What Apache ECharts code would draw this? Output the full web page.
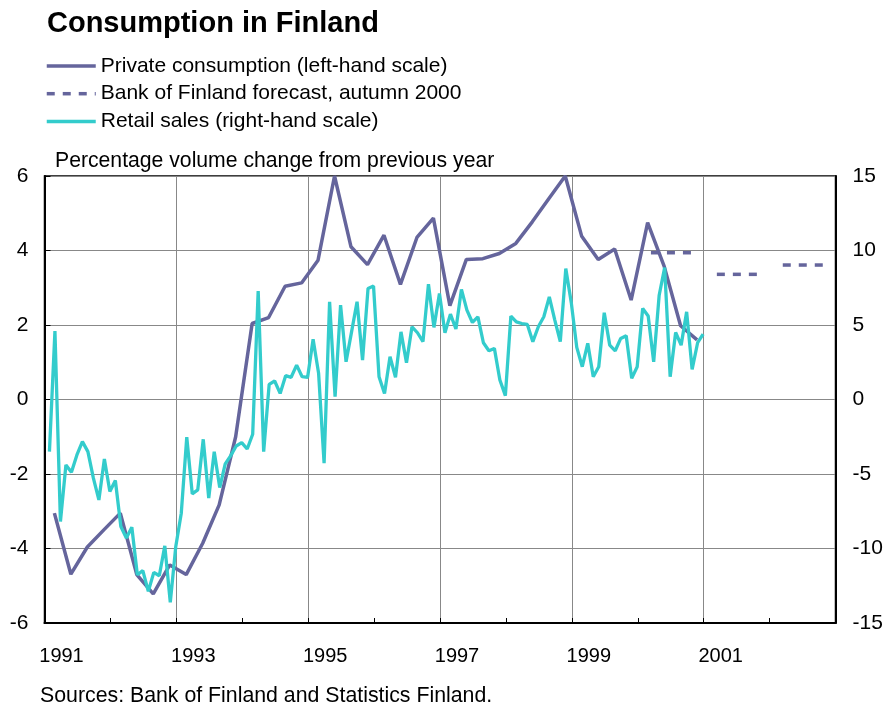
<!DOCTYPE html>
<html>
<head>
<meta charset="utf-8">
<script src="https://cdn.jsdelivr.net/npm/echarts@6/dist/echarts.min.js"></script>
<style>
  html, body { margin: 0; padding: 0; background: #fff; }
  #chart { width: 888px; height: 711px; }
</style>
</head>
<body>
<div id="chart"></div>
<script>
// private consumption, quarterly from 1991 Q1 (left-hand scale, %)
const consumptionStart = 1991;
const consumption = [
  -3.05, -4.69, -3.96, -3.5,
  -3.05, -4.7, -5.22, -4.44,
  -4.7, -3.86, -2.83, -1.0,
  2.04, 2.2, 3.04, 3.13,
  3.74, 6.0, 4.1, 3.62,
  4.41, 3.09, 4.35, 4.87,
  2.52, 3.76, 3.78, 3.92,
  4.19, 4.77, 5.39, 6.0,
  4.38, 3.76, 4.04, 2.67,
  4.75, 3.58, 1.98, 1.6
];

// Bank of Finland forecast, autumn 2000 (annual, left-hand scale)
const forecastYears = [2000, 2001, 2002];
const forecastValues = [3.94, 3.36, 3.61];

// retail sales, monthly from Jan 1991 (right-hand scale, %)
const retailStart = 1991;
const retail = [
  -3.5, 4.59, -8.19, -4.39, -4.88, -3.72, -2.83, -3.5, -5.28, -6.74, -3.99, -6.18,
  -5.44, -8.52, -9.3, -8.57, -11.76, -11.49, -12.88, -11.6, -11.83, -9.82, -13.62, -9.86,
  -7.63, -2.53, -6.33, -6.07, -2.67, -6.62, -3.5, -5.91, -4.32, -3.77, -3.12, -2.89,
  -3.32, -2.33, 7.27, -3.5, 1.02, 1.24, 0.41, 1.6, 1.49, 2.31, 1.53, 1.49,
  4.05, 1.76, -4.28, 6.56, 0.19, 6.33, 2.53, 4.54, 6.56, 2.65, 7.45, 7.61,
  1.53, 0.41, 2.87, 1.49, 4.54, 2.47, 4.88, 4.48, 3.88, 7.74, 4.84, 7.12,
  4.48, 5.73, 4.73, 7.39, 6.0, 5.17, 5.55, 3.81, 3.27, 3.43, 1.31, 0.26,
  5.6, 5.21, 5.1, 5.04, 3.88, 4.88, 5.55, 6.89, 5.33, 3.88, 8.79, 6.5,
  3.5, 2.2, 3.77, 1.53, 2.2, 5.82, 3.65, 3.27, 4.1, 4.28, 1.42, 2.2,
  6.11, 5.6, 2.53, 7.0, 8.86, 1.53, 4.5, 3.65, 5.88, 2.02, 3.81, 4.39
];

const yearLabels = [1991, 1993, 1995, 1997, 1999, 2001];

const purple = '#65659c';
const cyan = '#33cccc';
const font = 'Liberation Sans, Arial, sans-serif';

const consumptionData = consumption.map((v, i) => [consumptionStart + (i + 0.6) / 4, v]);
const retailData = retail.map((v, i) => [retailStart + (i + 0.9) / 12, v]);

const forecastName = 'Bank of Finland forecast, autumn 2000';
const forecastSeries = forecastYears.map((y, i) => ({
  name: forecastName,
  type: 'line',
  yAxisIndex: 0,
  symbol: 'none',
  color: purple,
  lineStyle: { color: purple, width: 3.5, type: [8, 8], cap: 'butt' },
  data: [[y + 0.2, forecastValues[i]], [y + 0.82, forecastValues[i]]]
}));

const chart = echarts.init(document.getElementById('chart'));
chart.setOption({
  animation: false,
  backgroundColor: '#fff',
  textStyle: { fontFamily: font },
  title: {
    text: 'Consumption in Finland',
    left: 47, top: 9, padding: 0,
    textStyle: { fontFamily: font, fontSize: 29, fontWeight: 'bold', color: '#000' }
  },
  legend: {
    orient: 'vertical',
    left: 45, top: 55, padding: 0,
    itemWidth: 49, itemHeight: 14, itemGap: 5.7,
    itemStyle: { opacity: 0 },
    lineStyle: { width: 3.5 },
    data: ['Private consumption (left-hand scale)', forecastName, 'Retail sales (right-hand scale)'],
    textStyle: { fontFamily: font, fontSize: 21, color: '#000', lineHeight: 22 }
  },
  graphic: [
    {
      type: 'text', left: 55, top: 151,
      style: { text: 'Percentage volume change from previous year', font: '21.2px ' + font, fill: '#000' }
    },
    {
      type: 'text', left: 40, top: 686,
      style: { text: 'Sources: Bank of Finland and Statistics Finland.', font: '21.3px ' + font, fill: '#000' }
    }
  ],
  grid: {
    left: 44.5, top: 176, width: 791, height: 447,
    show: true, borderColor: '#000', borderWidth: 1.5
  },
  xAxis: {
    type: 'value', min: 1991, max: 2003, interval: 2,
    axisLine: { show: true, onZero: false, lineStyle: { color: '#000', width: 2 } },
    axisTick: { show: true, inside: true, length: 5, lineStyle: { color: '#000' } },
    minorTick: { show: true, splitNumber: 2, length: 5, lineStyle: { color: '#000', width: 1 } },
    splitLine: { show: true, lineStyle: { color: '#888', width: 1 } },
    axisLabel: {
      margin: 23, align: 'center', padding: [0, 0, 0, 34], fontSize: 20, color: '#000', fontFamily: font,
      formatter: v => (yearLabels.indexOf(v) >= 0 ? String(v) : '')
    }
  },
  yAxis: [
    {
      type: 'value', min: -6, max: 6, interval: 2, position: 'left',
      axisLine: { show: true, lineStyle: { color: '#000', width: 2 } },
      axisTick: { show: true, inside: true, length: 6, lineStyle: { color: '#000' } },
      splitLine: { show: true, lineStyle: { color: '#888', width: 1 } },
      axisLabel: { margin: 16, fontSize: 21, color: '#000', fontFamily: font }
    },
    {
      type: 'value', min: -15, max: 15, interval: 5, position: 'right',
      axisLine: { show: true, lineStyle: { color: '#000', width: 2 } },
      axisTick: { show: false },
      splitLine: { show: false },
      axisLabel: { margin: 17, fontSize: 21, color: '#000', fontFamily: font }
    }
  ],
  series: [
    {
      name: 'Private consumption (left-hand scale)',
      type: 'line', yAxisIndex: 0, symbol: 'none',
      color: purple,
      lineStyle: { color: purple, width: 3.5 },
      data: consumptionData
    },
    ...forecastSeries,
    {
      name: 'Retail sales (right-hand scale)',
      type: 'line', yAxisIndex: 1, symbol: 'none',
      color: cyan,
      lineStyle: { color: cyan, width: 3.3 },
      data: retailData
    }
  ]
});
</script>
</body>
</html>
